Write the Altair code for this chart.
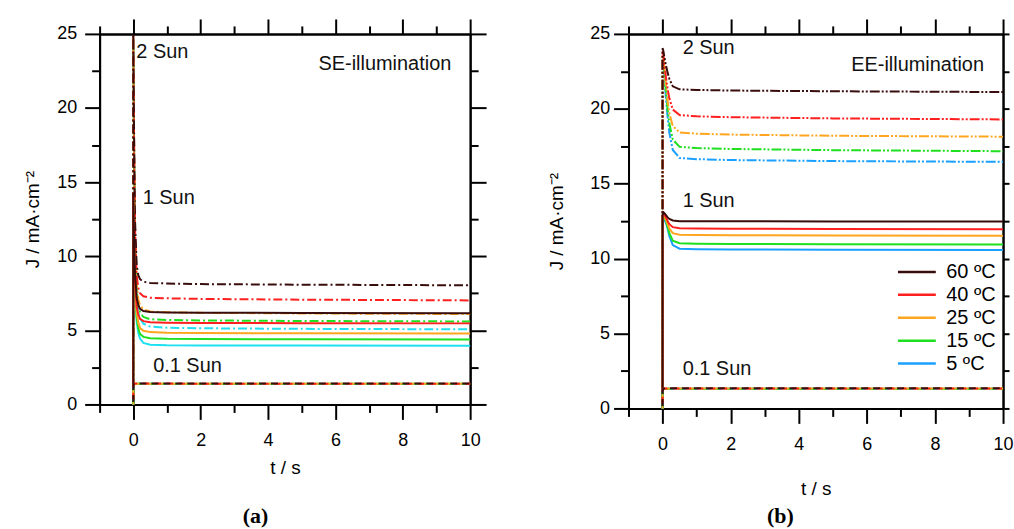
import altair as alt
import pandas as pd

# ---------------- data ----------------
T = [0, 0, 0.02, 0.05, 0.1, 0.15, 0.2, 0.3, 0.5, 1, 2, 5, 10]
TEMPS = ["60 ºC", "40 ºC", "25 ºC", "15 ºC", "5 ºC"]
COLORS_SE = ["#3a0d0d", "#ff1f1f", "#ffa51f", "#1ee01e", "#1fe0f0"]
COLORS_EE = ["#3a0d0d", "#ff1f1f", "#ffa51f", "#1ee01e", "#1aa0ff"]

SE_2SUN = {
    "60 ºC": [0, 25.0, 19.0, 12.5, 9.4, 8.7, 8.45, 8.28, 8.2, 8.16, 8.12, 8.08, 8.04],
    "40 ºC": [0, 24.9, 18.6, 12.0, 8.7, 7.85, 7.5, 7.3, 7.2, 7.16, 7.12, 7.07, 7.02],
    "25 ºC": [0, 24.8, 18.2, 11.5, 8.1, 7.1, 6.7, 6.4, 6.27, 6.22, 6.18, 6.14, 6.1],
    "15 ºC": [0, 24.7, 17.8, 11.0, 7.7, 6.7, 6.2, 5.9, 5.75, 5.7, 5.67, 5.63, 5.6],
    "5 ºC": [0, 24.6, 17.4, 10.6, 7.3, 6.3, 5.8, 5.45, 5.25, 5.18, 5.14, 5.1, 5.07],
}
SE_1SUN = {
    "60 ºC": [0, 14.2, 11.5, 9.0, 7.2, 6.7, 6.45, 6.3, 6.24, 6.21, 6.19, 6.17, 6.16],
    "40 ºC": [0, 14.1, 11.2, 8.6, 6.6, 6.05, 5.78, 5.62, 5.54, 5.51, 5.5, 5.48, 5.47],
    "25 ºC": [0, 14.0, 11.0, 8.3, 6.2, 5.5, 5.15, 4.97, 4.88, 4.84, 4.82, 4.8, 4.79],
    "15 ºC": [0, 13.9, 10.8, 8.0, 5.9, 5.1, 4.75, 4.56, 4.47, 4.43, 4.41, 4.4, 4.39],
    "5 ºC": [0, 13.8, 10.6, 7.8, 5.6, 4.8, 4.45, 4.15, 4.03, 3.99, 3.98, 3.97, 3.96],
}
SE_01SUN = {
    "60 ºC": [0, 1.25, 1.38, 1.42, 1.42, 1.42, 1.42, 1.42, 1.42, 1.41, 1.41, 1.41, 1.41],
    "40 ºC": [0, 1.24, 1.37, 1.41, 1.41, 1.41, 1.41, 1.41, 1.41, 1.41, 1.40, 1.40, 1.40],
    "25 ºC": [0, 1.23, 1.36, 1.40, 1.40, 1.40, 1.40, 1.40, 1.40, 1.40, 1.40, 1.40, 1.40],
    "15 ºC": [0, 1.22, 1.35, 1.39, 1.40, 1.40, 1.40, 1.40, 1.39, 1.39, 1.39, 1.39, 1.39],
    "5 ºC": [0, 1.21, 1.34, 1.38, 1.39, 1.39, 1.39, 1.39, 1.39, 1.38, 1.38, 1.38, 1.38],
}
EE_2SUN = {
    "60 ºC": [0, 24.05, 23.9, 23.5, 22.9, 22.4, 22.0, 21.5, 21.3, 21.26, 21.22, 21.17, 21.12],
    "40 ºC": [0, 23.9, 23.7, 23.1, 22.1, 21.3, 20.7, 19.95, 19.58, 19.5, 19.44, 19.36, 19.29],
    "25 ºC": [0, 23.7, 23.5, 22.8, 21.6, 20.5, 19.7, 18.85, 18.42, 18.34, 18.28, 18.2, 18.14],
    "15 ºC": [0, 23.5, 23.3, 22.5, 21.1, 19.9, 19.0, 17.95, 17.46, 17.38, 17.32, 17.24, 17.17],
    "5 ºC": [0, 23.3, 23.1, 22.2, 20.7, 19.4, 18.4, 17.25, 16.72, 16.64, 16.58, 16.51, 16.46],
}
EE_1SUN = {
    "60 ºC": [0, 12.9, 13.1, 13.05, 12.9, 12.75, 12.65, 12.55, 12.5, 12.5, 12.49, 12.48, 12.47],
    "40 ºC": [0, 12.85, 13.0, 12.95, 12.75, 12.5, 12.3, 12.1, 12.03, 12.01, 12.0, 11.98, 11.96],
    "25 ºC": [0, 12.8, 12.9, 12.85, 12.6, 12.3, 12.0, 11.7, 11.6, 11.58, 11.56, 11.54, 11.52],
    "15 ºC": [0, 12.75, 12.8, 12.75, 12.5, 12.1, 11.7, 11.2, 11.03, 11.0, 10.98, 10.96, 10.95],
    "5 ºC": [0, 12.6, 12.65, 12.6, 12.4, 12.0, 11.5, 10.9, 10.66, 10.63, 10.61, 10.59, 10.57],
}
EE_01SUN = {
    "60 ºC": [0, 1.15, 1.28, 1.33, 1.34, 1.34, 1.34, 1.34, 1.34, 1.34, 1.34, 1.34, 1.34],
    "40 ºC": [0, 1.15, 1.28, 1.33, 1.33, 1.33, 1.33, 1.33, 1.33, 1.33, 1.33, 1.33, 1.33],
    "25 ºC": [0, 1.14, 1.27, 1.32, 1.33, 1.33, 1.33, 1.33, 1.33, 1.33, 1.33, 1.33, 1.33],
    "15 ºC": [0, 1.14, 1.27, 1.32, 1.32, 1.32, 1.32, 1.32, 1.32, 1.32, 1.32, 1.32, 1.32],
    "5 ºC": [0, 1.13, 1.26, 1.31, 1.32, 1.32, 1.32, 1.32, 1.32, 1.32, 1.32, 1.32, 1.32],
}

SE_ANN_TEXT = ["2 Sun", "1 Sun", "0.1 Sun"]
SE_ANN_T = [0.09, 0.28, 0.59]
SE_ANN_J = [23.8, 13.9, 2.62]
EE_ANN_TEXT = ["2 Sun", "1 Sun", "0.1 Sun"]
EE_ANN_T = [0.59, 0.59, 0.59]
EE_ANN_J = [24.04, 13.82, 2.65]
SE_TITLE = "SE-illumination"
EE_TITLE = "EE-illumination"
TITLE_T = 9.44
TITLE_J = 22.94

X_MAJOR = [0, 2, 4, 6, 8, 10]
X_MINOR = [-1, 1, 3, 5, 7, 9]
Y_MAJOR = [0, 5, 10, 15, 20, 25]
Y_MINOR = [2.5, 7.5, 12.5, 17.5, 22.5]

FONT = "Liberation Sans"
SERIF = "Liberation Serif"

DRAW_ORDER = list(reversed(TEMPS))  # coolest first, 60 ºC drawn on top


def long_df(d, illum):
    rows = []
    for temp in DRAW_ORDER:
        for i, (t, j) in enumerate(zip(T, d[temp])):
            rows.append({"illum": illum, "temp": temp, "i": i, "t": t, "J": j})
    return pd.DataFrame(rows)


def make_panel(d2, d1, d01, colors, width, height, ylab_pad, xtitle_y, ytitle_x,
               caption, cap_off, ann, ill_text, legend, dash2, rtick):
    XS = alt.Scale(domain=[-1, 10], nice=False, zero=False)
    YS = alt.Scale(domain=[0, 25], nice=False, zero=False)

    def ax(orient, values, size, labels=False, **kw):
        return alt.Axis(orient=orient, values=values, tickSize=size, labels=labels,
                        grid=False, domain=True, labelFlush=False, labelOverlap=False,
                        **kw)

    x_bmaj = ax("bottom", X_MAJOR, 15, labels=True, labelPadding=12, title="t / s",
                titleX=width / 2, titleY=xtitle_y, titleBaseline="middle",
                titleAlign="center")
    y_lmaj = ax("left", Y_MAJOR, 15, labels=True, labelPadding=ylab_pad,
                title="J / mA·cm⁻²", titleX=ytitle_x, titleY=height / 2,
                titleBaseline="middle", titleAlign="center", titleAngle=270)
    x_bmin = ax("bottom", X_MINOR, 8, title=None)
    y_lmin = ax("left", Y_MINOR, 8, title=None)
    x_tmaj = ax("top", X_MAJOR, 15, title=None)
    y_rmaj = ax("right", Y_MAJOR, rtick, title=None)
    x_tmin = ax("top", X_MINOR, 8, title=None)
    y_rmin = ax("right", Y_MINOR, min(8, rtick), title=None)

    color = alt.Color("temp:N", scale=alt.Scale(domain=TEMPS, range=colors),
                      legend=legend)

    def enc(ch, xa, ya):
        return ch.encode(
            x=alt.X("t:Q", scale=XS, axis=xa),
            y=alt.Y("J:Q", scale=YS, axis=ya),
            color=color,
            order=alt.Order("i:Q"),
        )

    layers = []
    layers.append(enc(alt.Chart(d2).mark_line(strokeWidth=2, strokeDash=dash2),
                      x_bmin, y_lmin))
    layers.append(enc(alt.Chart(d1).mark_line(strokeWidth=2), x_bmaj, y_lmaj))
    for k, temp in enumerate(DRAW_ORDER):
        sub = d01[d01.temp == temp]
        if k == 0:
            xa, ya = x_tmaj, y_rmaj
        elif k == 1:
            xa, ya = x_tmin, y_rmin
        else:
            xa, ya = None, None
        layers.append(enc(alt.Chart(sub).mark_line(strokeWidth=2, strokeDash=[7, 5],
                                                    strokeDashOffset=k * 2.4), xa, ya))

    ann_df = pd.DataFrame({"t": ann[0], "J": ann[1], "label": ann[2]})
    layers.append(alt.Chart(ann_df).mark_text(align="left", baseline="middle",
                                              fontSize=20, font=FONT, color="#111")
                  .encode(x=alt.X("t:Q", scale=XS, axis=None),
                          y=alt.Y("J:Q", scale=YS, axis=None),
                          text="label:N"))
    ill_df = pd.DataFrame({"t": [TITLE_T], "J": [TITLE_J], "label": [ill_text]})
    layers.append(alt.Chart(ill_df).mark_text(align="right", baseline="middle",
                                              fontSize=20, font=FONT, color="#111")
                  .encode(x=alt.X("t:Q", scale=XS, axis=None),
                          y=alt.Y("J:Q", scale=YS, axis=None),
                          text="label:N"))

    return alt.layer(*layers).resolve_axis(x="independent", y="independent").properties(
        width=width, height=height,
        title=alt.TitleParams(caption, orient="bottom", frame="bounds", offset=cap_off,
                              font=SERIF, fontSize=22, fontWeight="bold",
                              anchor="middle", baseline="top", color="black"),
    )


se2, se1, se01 = long_df(SE_2SUN, "2 Sun"), long_df(SE_1SUN, "1 Sun"), long_df(SE_01SUN, "0.1 Sun")
ee2, ee1, ee01 = long_df(EE_2SUN, "2 Sun"), long_df(EE_1SUN, "1 Sun"), long_df(EE_01SUN, "0.1 Sun")

legend = alt.Legend(orient="none", legendX=269, legendY=227.6, title=None,
                    symbolType="stroke", symbolSize=1444, symbolStrokeWidth=2.5,
                    symbolDash=[1, 0], labelFontSize=20, labelFont=FONT,
                    labelColor="black", labelOffset=9, clipHeight=22.7, rowPadding=0,
                    padding=0)

left = make_panel(se2, se1, se01, COLORS_SE, 372, 372, 8, 63, -67, "(a)", 29,
                  (SE_ANN_T, SE_ANN_J, SE_ANN_TEXT), SE_TITLE, None, [9, 3, 2, 3], 16)
right = make_panel(ee2, ee1, ee01, COLORS_EE, 376, 376, 4, 80, -72, "(b)", 8,
                   (EE_ANN_T, EE_ANN_J, EE_ANN_TEXT), EE_TITLE, legend,
                   [10, 2, 2, 2, 2, 2], 6)

chart = (
    alt.hconcat(left, right, spacing=159, bounds="flush")
    .resolve_scale(color="independent")
    .properties(padding={"left": 24, "top": 17, "right": 0, "bottom": 0},
                background="white")
    .configure_view(stroke=None)
    .configure_axis(domainColor="black", domainWidth=2, tickColor="black", tickWidth=2,
                    labelColor="black", labelFont=FONT, labelFontSize=18,
                    titleColor="black", titleFont=FONT, titleFontSize=19,
                    titleFontWeight="normal")
)

chart.save("out.html", embed_options={"renderer": "svg", "actions": False})
